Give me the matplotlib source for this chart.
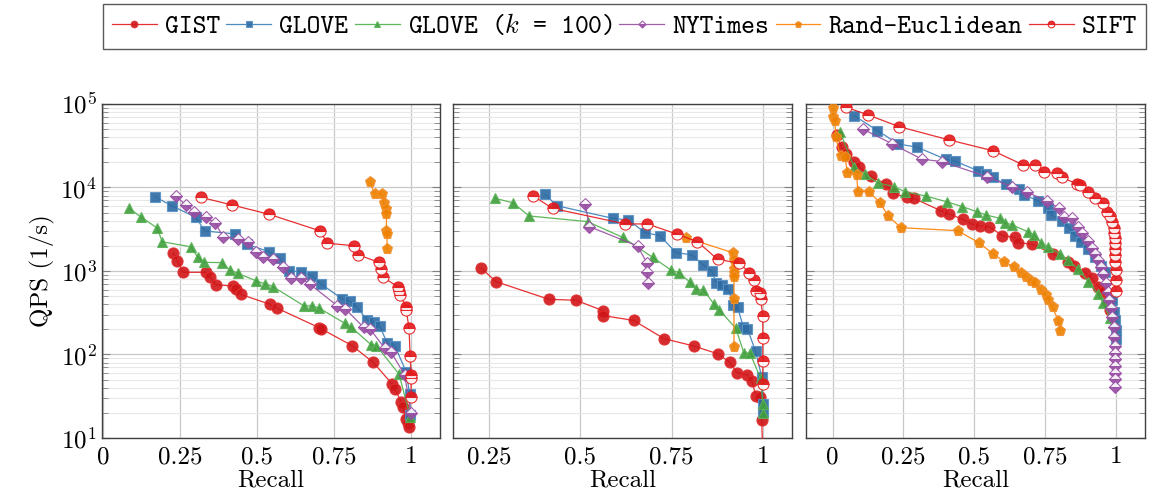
import matplotlib
matplotlib.use('Agg')
import matplotlib.pyplot as plt
from matplotlib.ticker import LogLocator, NullFormatter

# ---- data: recall / queries per second for the three panels ----
names = ['GIST', 'GLOVE', 'GLOVE ($k$ = 100)', 'NYTimes', 'Rand-Euclidean', 'SIFT']

# panel 1
gist_r1 = [0.228, 0.241, 0.260, 0.333, 0.349, 0.366, 0.423, 0.433, 0.447, 0.542, 0.566, 0.701, 0.707, 0.808,
           0.877, 0.939, 0.947, 0.968, 0.974, 0.982, 0.990, 0.992]
gist_q1 = [1630, 1330, 964, 964, 840, 685, 661, 603, 525, 399, 357, 210, 204, 128, 80.5, 44, 38.6, 27.2, 23.7,
           16.7, 15.2, 13.6]
glove_r1 = [0.169, 0.223, 0.301, 0.331, 0.430, 0.466, 0.539, 0.574, 0.603, 0.643, 0.679, 0.708, 0.777, 0.801,
            0.825, 0.857, 0.878, 0.898, 0.923, 0.947, 0.984, 0.995, 0.998]
glove_q1 = [7760, 6050, 4400, 3010, 2780, 2100, 1700, 1420, 1000, 982, 880, 698, 462, 437, 367, 259, 247, 219,
            136, 128, 62, 34, 18.8]
g100_r1 = [0.085, 0.122, 0.177, 0.192, 0.285, 0.307, 0.327, 0.386, 0.412, 0.437, 0.496, 0.527, 0.552, 0.653,
           0.679, 0.701, 0.785, 0.804, 0.871, 0.887, 0.961, 0.997]
g100_q1 = [5630, 4480, 3250, 2240, 1950, 1480, 1270, 1260, 1030, 938, 765, 698, 649, 381, 381, 361, 236, 215,
           130, 128, 58, 18]
nyt_r1 = [0.237, 0.269, 0.296, 0.336, 0.365, 0.390, 0.439, 0.471, 0.498, 0.520, 0.552, 0.585, 0.609, 0.642,
          0.671, 0.760, 0.787, 0.846, 0.868, 0.914, 0.934, 0.979, 1.0]
nyt_q1 = [7900, 6170, 5130, 4390, 3720, 2580, 2410, 2200, 1670, 1480, 1380, 1130, 832, 817, 698, 385, 351, 211,
          200, 119, 108, 57, 19.8]
rand_r1 = [0.866, 0.882, 0.906, 0.911, 0.917, 0.920, 0.920, 0.922, 0.922]
rand_q1 = [11530, 8360, 8280, 6470, 5530, 4780, 3040, 2780, 1830]
sift_r1 = [0.318, 0.419, 0.539, 0.706, 0.727, 0.814, 0.828, 0.896, 0.903, 0.909, 0.957, 0.961, 0.963, 0.984,
           0.984, 0.993, 0.997, 1.0, 1.0, 1.0]
sift_q1 = [7620, 6170, 4780, 3010, 2150, 2010, 1560, 1270, 1060, 840, 649, 581, 516, 374, 341, 210, 96, 57, 53,
           30.7]

# panel 2
gist_r2 = [0.229, 0.269, 0.414, 0.488, 0.562, 0.563, 0.646, 0.729, 0.812, 0.876, 0.909, 0.929, 0.958, 0.970,
           0.981, 0.991, 0.997, 0.999]
gist_q2 = [1077, 745, 458, 446, 335, 292, 256, 155, 126, 102, 81, 60.6, 56.8, 48.2, 32.2, 30.7, 16.4, 8.5]
glove_r2 = [0.403, 0.435, 0.589, 0.632, 0.677, 0.718, 0.762, 0.805, 0.837, 0.860, 0.872, 0.887, 0.906, 0.919,
            0.931, 0.947, 0.958, 0.980, 0.997, 1.0, 1.0]
glove_q2 = [8360, 6060, 4270, 4080, 2880, 2650, 1660, 1560, 1180, 1000, 725, 679, 603, 392, 367, 211, 202, 110,
            54, 25.5, 20.7]
g100_r2 = [0.266, 0.315, 0.360, 0.520, 0.616, 0.698, 0.748, 0.770, 0.801, 0.817, 0.837, 0.866, 0.881, 0.926,
           0.948, 0.965, 0.994, 1.0, 1.0]
g100_q2 = [7420, 6570, 4560, 3900, 2530, 1460, 1030, 955, 731, 603, 592, 403, 341, 206, 105, 103, 51.9, 25.5,
           19.7]
nyt_r2 = [0.513, 0.525, 0.657, 0.682, 0.684, 0.686]
nyt_q2 = [6340, 3400, 1990, 1260, 982, 711]
rand_r2 = [0.789, 0.917, 0.921, 0.921, 0.921, 0.921, 0.921, 0.921]
rand_q2 = [2510, 1660, 1350, 1060, 955, 855, 458, 122]
sift_r2 = [0.371, 0.424, 0.623, 0.684, 0.764, 0.821, 0.876, 0.936, 0.963, 0.976, 0.982, 0.991, 0.994, 1.0, 1.0,
           1.0, 1.0]
sift_q2 = [7910, 5620, 3660, 3660, 2770, 2240, 1380, 1240, 955, 780, 575, 541, 458, 292, 156, 84, 44]

# panel 3
gist_r3 = [0.014, 0.032, 0.049, 0.076, 0.093, 0.135, 0.187, 0.212, 0.261, 0.287, 0.381, 0.411, 0.459, 0.491,
           0.520, 0.552, 0.599, 0.644, 0.655, 0.702, 0.779, 0.832, 0.853, 0.891, 0.914, 0.938, 0.955, 0.973,
           0.979]
gist_q3 = [42500, 30300, 24900, 20400, 17700, 13700, 11000, 8510, 7620, 7410, 5280, 4820, 4160, 3650, 3460,
           3400, 2650, 2530, 2180, 2100, 1600, 1290, 1160, 955, 817, 649, 565, 430, 341]
glove_r3 = [0.076, 0.158, 0.232, 0.299, 0.400, 0.432, 0.512, 0.540, 0.566, 0.611, 0.659, 0.676, 0.724, 0.761,
            0.771, 0.808, 0.834, 0.855, 0.876, 0.902, 0.924, 0.947, 0.961, 0.985, 0.994, 0.996, 0.999, 1.0]
glove_q3 = [72500, 48000, 33200, 30300, 21700, 20700, 15900, 14400, 13200, 10900, 9510, 8130, 6950, 5620, 4690,
            4010, 3300, 2650, 2240, 1820, 1490, 1160, 982, 450, 326, 259, 196, 152]
g100_r3 = [0.026, 0.076, 0.114, 0.159, 0.218, 0.255, 0.328, 0.402, 0.458, 0.508, 0.541, 0.591, 0.608, 0.634,
           0.688, 0.712, 0.735, 0.761, 0.802, 0.829, 0.867, 0.902, 0.935, 0.955, 0.979]
g100_q3 = [46700, 17500, 14400, 11400, 10200, 8910, 7910, 6760, 5890, 5140, 4690, 4270, 3800, 3560, 2960, 2700,
           2180, 1950, 1600, 1360, 1050, 745, 531, 410, 271]
nyt_r3 = [0.108, 0.211, 0.314, 0.385, 0.544, 0.632, 0.687, 0.758, 0.799, 0.818, 0.844, 0.867, 0.881, 0.900,
          0.914, 0.926, 0.938, 0.946, 0.955, 0.964, 0.971, 0.976, 0.982, 0.987, 0.991, 0.994, 0.996, 0.996,
          0.996, 0.996, 0.996, 0.996, 0.996]
nyt_q3 = [49800, 33200, 21900, 20400, 13500, 10200, 8750, 6880, 5620, 4480, 4350, 3400, 2880, 2310, 1870, 1600,
          1360, 1130, 921, 711, 565, 450, 357, 284, 215, 164, 126, 103, 87.5, 72.8, 60.5, 50.4, 41.2]
rand_r3 = [0.002, 0.002, 0.008, 0.011, 0.028, 0.044, 0.052, 0.085, 0.089, 0.129, 0.167, 0.196, 0.241, 0.441,
           0.516, 0.567, 0.606, 0.641, 0.665, 0.682, 0.700, 0.714, 0.735, 0.752, 0.761, 0.776, 0.796, 0.802]
rand_q3 = [88700, 70500, 63100, 39900, 23800, 23000, 15100, 14100, 8910, 8910, 6570, 4560, 3300, 3040, 2180,
           1600, 1290, 1110, 955, 855, 765, 711, 592, 516, 450, 367, 254, 193]
sift_r3 = [0.049, 0.126, 0.234, 0.411, 0.565, 0.673, 0.714, 0.744, 0.791, 0.811, 0.861, 0.873, 0.900, 0.924,
           0.955, 0.967, 0.979, 0.985, 0.991, 0.994, 0.996, 0.996, 0.996, 0.996, 0.996, 0.999, 0.999, 0.999]
sift_q3 = [91200, 73800, 53600, 37100, 27600, 18600, 18600, 15200, 14800, 13200, 11000, 10700, 8910, 7410, 6570,
           5140, 4560, 3900, 3240, 2830, 2460, 2140, 1820, 1560, 1290, 1030, 780, 575]

panels = [
    [(gist_r1, gist_q1), (glove_r1, glove_q1), (g100_r1, g100_q1), (nyt_r1, nyt_q1), (rand_r1, rand_q1),
     (sift_r1, sift_q1)],
    [(gist_r2, gist_q2), (glove_r2, glove_q2), (g100_r2, g100_q2), (nyt_r2, nyt_q2), (rand_r2, rand_q2),
     (sift_r2, sift_q2)],
    [(gist_r3, gist_q3), (glove_r3, glove_q3), (g100_r3, g100_q3), (nyt_r3, nyt_q3), (rand_r3, rand_q3),
     (sift_r3, sift_q3)],
]
panel_xlims = [(-0.004, 1.094), (0.152, 1.08), (-0.095, 1.102)]
panel_xticks = [[0, 0.25, 0.5, 0.75, 1], [0.25, 0.5, 0.75, 1], [0, 0.25, 0.5, 0.75, 1]]
xtick_labels = {0: '0', 0.25: '0.25', 0.5: '0.5', 0.75: '0.75', 1: '1'}

# ---- styles ----
styles = [
    dict(color='#e41a1c', marker='o', mfc='#d01518', mec='#e03030', fillstyle='full'),
    dict(color='#377eb8', marker='s', mfc='#2c6aa3', mec='#5a93c6', fillstyle='full'),
    dict(color='#4daf4a', marker='^', mfc='#3f9e3c', mec='#5cb359', fillstyle='full'),
    dict(color='#984ea3', marker='D', mfc='#984ea3', mec='#984ea3', fillstyle='bottom'),
    dict(color='#ff7f00', marker='p', mfc='#ee8100', mec='#f29030', fillstyle='full'),
    dict(color='#e41a1c', marker='o', mfc='#e41a1c', mec='#e41a1c', fillstyle='top'),
]
msizes = [8, 7.5, 7, 6, 8, 8]

plt.rcParams['font.family'] = 'serif'
plt.rcParams['font.serif'] = ['cmr10']
plt.rcParams['mathtext.fontset'] = 'cm'
plt.rcParams['axes.formatter.use_mathtext'] = True

fig = plt.figure(figsize=(11.49, 4.98), dpi=100)
bottom, height = 0.1205, 0.6707
lefts = [0.0885, 0.3945, 0.7012]
widths = [0.2945, 0.2948, 0.2953]

handles = []
for i, series in enumerate(panels):
    ax = fig.add_axes([lefts[i], bottom, widths[i], height])
    for j, (r, q) in enumerate(series):
        st = styles[j]
        ln, = ax.plot(r, q, color=st['color'], lw=0.9, alpha=0.9, marker=st['marker'],
                      markersize=msizes[j], markerfacecolor=st['mfc'], markeredgecolor=st['mec'],
                      markeredgewidth=0.8, fillstyle=st['fillstyle'], markerfacecoloralt='white',
                      label=names[j], zorder=3)
        if i == 0:
            handles.append(ln)
    ax.set_yscale('log')
    ax.set_ylim(10, 1e5)
    ax.set_xlim(*panel_xlims[i])
    ax.set_xticks(panel_xticks[i])
    ax.set_xticklabels([xtick_labels[t] for t in panel_xticks[i]])
    ax.yaxis.set_major_locator(LogLocator(base=10, numticks=10))
    ax.yaxis.set_minor_locator(LogLocator(base=10, subs=range(2, 10), numticks=20))
    ax.yaxis.set_minor_formatter(NullFormatter())
    ax.grid(True, which='major', color='#c8c8c8', lw=0.9)
    ax.grid(True, which='minor', axis='y', color='#e8e8e8', lw=0.8)
    ax.set_axisbelow(True)
    ax.tick_params(axis='both', which='both', direction='in', labelsize=18, right=True, color='#808080')
    ax.tick_params(axis='y', which='major', length=6)
    ax.tick_params(axis='y', which='minor', length=4)
    ax.tick_params(axis='x', length=0, pad=6)
    for sp in ax.spines.values():
        sp.set_color('#404040')
        sp.set_linewidth(1.0)
    ax.set_xlabel('Recall', fontsize=18, labelpad=1)
    if i == 0:
        ax.set_ylabel('QPS (1/s)', fontsize=18)
    else:
        ax.tick_params(axis='y', which='both', labelleft=False)

leg = fig.legend(handles=handles, loc='center', bbox_to_anchor=(0.5435, 0.947), ncol=6,
                 prop={'family': 'cmtt10', 'size': 19}, frameon=True, fancybox=False,
                 edgecolor='#303030', handlelength=1.7, handletextpad=0.3, columnspacing=0.25,
                 borderpad=0.35, markerscale=0.6)
leg.get_frame().set_linewidth(1.0)

fig.savefig('out.png', dpi=100)
